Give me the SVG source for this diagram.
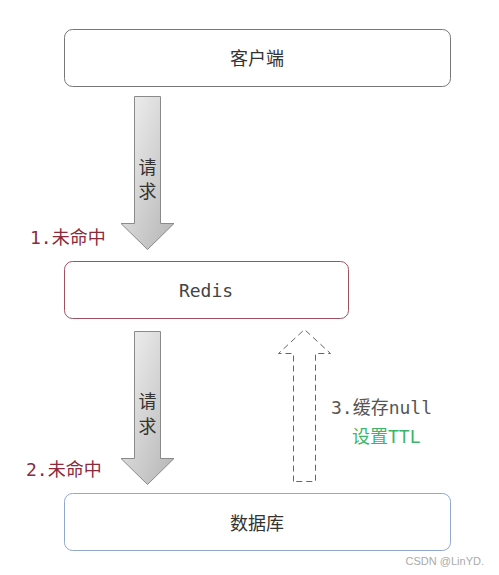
<svg xmlns="http://www.w3.org/2000/svg" width="499" height="575" viewBox="0 0 499 575">
<style>
.box{fill:#fff;stroke-width:1}
.cn{font-family:"Noto Sans CJK SC","DejaVu Sans",sans-serif;font-size:18px;fill:#333;text-anchor:middle;dominant-baseline:central}
.mono{font-family:"DejaVu Sans Mono","Noto Sans CJK SC",monospace;font-size:18px;dominant-baseline:central}
.red{fill:#8b2a3c}
</style>
<defs>
<linearGradient id="g" x1="0" y1="0" x2="1" y2="1">
<stop offset="0" stop-color="#f4f4f4"/>
<stop offset="1" stop-color="#b4b4b4"/>
</linearGradient>
</defs>
<rect width="499" height="575" fill="#fff"/>
<g id="client">
<rect class="box" x="64.5" y="29.5" width="386" height="57" rx="8" stroke="#777"/>
<text class="cn" x="257" y="57">客户端</text>
</g>
<g id="redis">
<rect class="box" x="64.5" y="261.5" width="284" height="57" rx="8" stroke="#a0505e"/>
<text class="mono" x="206" y="290" fill="#444" text-anchor="middle">Redis</text>
</g>
<g id="db">
<rect class="box" x="64.5" y="493.5" width="386" height="57" rx="8" stroke="#8fa8cc"/>
<text class="cn" x="257" y="522">数据库</text>
</g>
<g id="connectors">
<g id="req1">
<path d="M134.5,96.5 H160.5 V223.5 H174 L147.5,249.5 L121,223.5 H134.5 Z" fill="url(#g)" stroke="#8a8a8a"/>
<text class="cn" x="147.5" y="166" fill="#111">请</text>
<text class="cn" x="147.5" y="190" fill="#111">求</text>
</g>
<g id="req2">
<path d="M134.5,331.5 H160.5 V458.5 H174 L147.5,484.5 L121,458.5 H134.5 Z" fill="url(#g)" stroke="#8a8a8a"/>
<text class="cn" x="147.5" y="400" fill="#111">请</text>
<text class="cn" x="147.5" y="425" fill="#111">求</text>
</g>
<g id="cache">
<path d="M293.5,481.5 V353.5 H278.5 L304.5,329.5 L330.5,353.5 H315.5 V481.5 Z" fill="none" stroke="#666" stroke-dasharray="6,4"/>
</g>
</g>
<text class="mono red" x="30" y="237">1.未命中</text>
<text class="mono red" x="26" y="469">2.未命中</text>
<text class="mono" x="331" y="407" fill="#555">3.缓存null</text>
<text class="mono" x="352" y="436" fill="#3cb56a">设置TTL</text>
<text x="484" y="565" font-family="Liberation Sans,sans-serif" font-size="11" fill="#aaa" text-anchor="end">CSDN @LinYD.</text>
</svg>
